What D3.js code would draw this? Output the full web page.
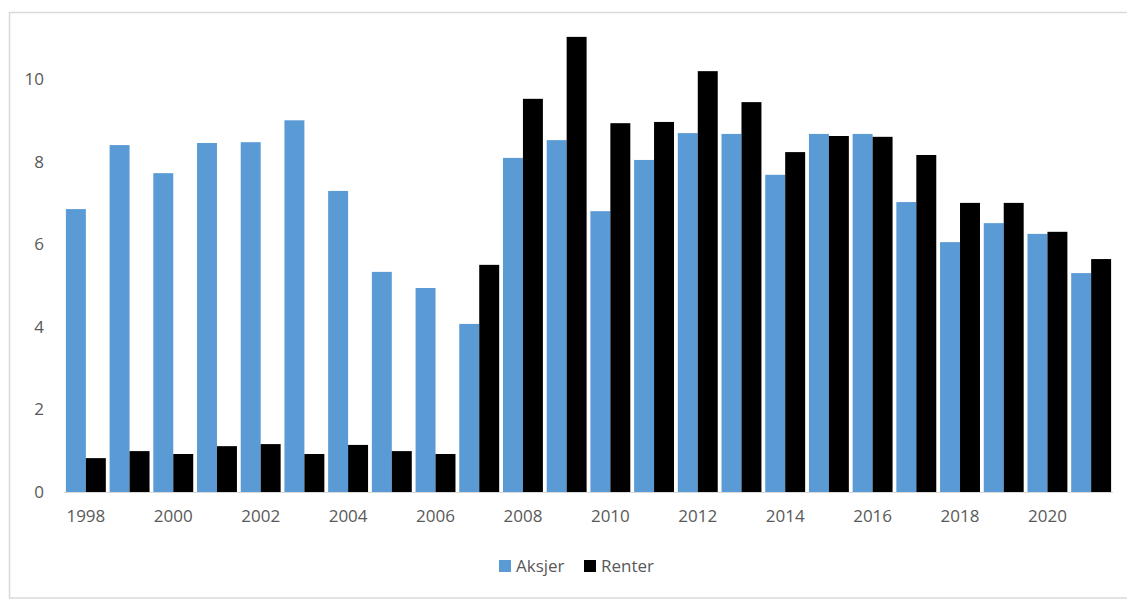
<!DOCTYPE html>
<html><head><meta charset="utf-8">
<script src="https://cdn.jsdelivr.net/npm/d3@7"></script>
<style>body{margin:0;background:#fff}svg{display:block}</style>
</head><body>
<svg id="c" width="1127" height="599"></svg>
<script>
const years = [1998,1999,2000,2001,2002,2003,2004,2005,2006,2007,2008,2009,2010,2011,2012,2013,2014,2015,2016,2017,2018,2019,2020,2021];
const aksjer = [6.85,8.40,7.72,8.45,8.47,9.00,7.29,5.33,4.94,4.07,8.09,8.52,6.80,8.04,8.69,8.67,7.68,8.67,8.67,7.02,6.05,6.51,6.25,5.30];
const renter = [0.82,0.99,0.92,1.11,1.16,0.92,1.14,0.99,0.92,5.50,9.52,11.02,8.93,8.96,10.19,9.44,8.23,8.62,8.60,8.16,7.00,7.00,6.30,5.64];
const yTicks = [0,2,4,6,8,10];
const seriesNames = ["Aksjer","Renter"];
const colors = ["#5b9bd5","#000000"];

const svg = d3.select("#c");
const font = "'Open Sans', sans-serif";
const textColor = "#595959";

svg.append("rect").attr("x",9.5).attr("y",12.5).attr("width",1125).attr("height",585.5)
  .attr("fill","none").attr("stroke","#d9d9d9").attr("stroke-width",1.5);

const x = d3.scaleBand().domain(years).range([64,1113]).paddingInner(0).paddingOuter(0);
const sub = d3.scaleBand().domain(seriesNames).range([0,x.bandwidth()]).paddingOuter(0.095).paddingInner(0);
const y = d3.scaleLinear().domain([0,10]).range([492,79]);

const series = [aksjer, renter];
series.forEach((vals,si)=>{
  svg.append("g").selectAll("rect").data(years).join("rect")
    .attr("x",(d)=>x(d)+sub(seriesNames[si]))
    .attr("width",sub.bandwidth())
    .attr("y",(d,i)=>y(vals[i]))
    .attr("height",(d,i)=>y(0)-y(vals[i]))
    .attr("fill",colors[si]);
});

// x axis line
svg.append("line").attr("x1",64).attr("x2",1113).attr("y1",y(0)+0.5).attr("y2",y(0)+0.5)
  .attr("stroke","#d9d9d9").attr("stroke-width",1.2);

// y labels
const yAxis = d3.axisLeft(y).tickValues(yTicks).tickSize(0).tickPadding(0);
const yg = svg.append("g").attr("transform","translate(44,0)").call(yAxis);
yg.select(".domain").remove();
yg.selectAll("text").attr("font-family",font).attr("font-size",17).attr("fill",textColor);

// x labels
const xAxis = d3.axisBottom(x).tickValues(years.filter((d,i)=>i%2===0)).tickSize(0).tickPadding(0);
const xg = svg.append("g").attr("transform","translate(0,510)").call(xAxis);
xg.select(".domain").remove();
xg.selectAll("text").attr("font-family",font).attr("font-size",17).attr("fill",textColor);

// legend
const leg = [{n:"Aksjer",x:499},{n:"Renter",x:584}];
leg.forEach((l,i)=>{
  svg.append("rect").attr("x",l.x).attr("y",560).attr("width",12).attr("height",12).attr("fill",colors[i]);
  svg.append("text").attr("x",l.x+17).attr("y",572).text(l.n)
    .attr("font-family",font).attr("font-size",17).attr("fill",textColor);
});
</script>
</body></html>
